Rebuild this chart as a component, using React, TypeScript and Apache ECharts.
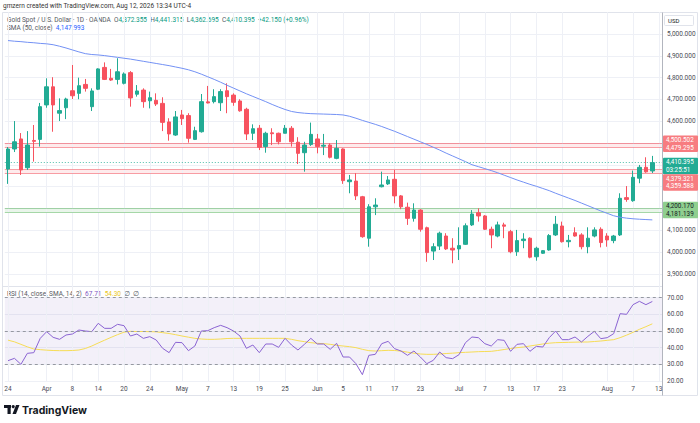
import React, { useEffect, useRef } from "react";
import * as echarts from "echarts";

// ---- categories (trading days, 2026) ----
const marDays = [24, 25, 26, 27, 30, 31];
const aprDays = [1, 2, 6, 7, 8, 9, 10, 13, 14, 15, 16, 17, 20, 21, 22, 23, 24, 27, 28, 29, 30];
const mayDays = [1, 4, 5, 6, 7, 8, 11, 12, 13, 14, 15, 18, 19, 20, 21, 22, 25, 26, 27, 28, 29];
const junDays = [1, 2, 3, 4, 5, 8, 9, 10, 11, 12, 15, 16, 17, 18, 19, 22, 23, 24, 25, 26, 29, 30];
const julDays = [1, 2, 3, 6, 7, 8, 9, 10, 13, 14, 15, 16, 17, 20, 21, 22, 23, 24, 27, 28, 29, 30, 31];
const augDays = [3, 4, 5, 6, 7, 10, 11, 12, 13];

const tickDates = ["03-24", "04-01", "04-08", "04-14", "04-20", "04-24", "05-01", "05-07", "05-13", "05-19", "05-25", "06-01", "06-05", "06-11", "06-17", "06-23", "07-01", "07-07", "07-13", "07-17", "07-23", "08-03", "08-07", "08-13"];
const tickTexts = ["24", "Apr", "8", "14", "20", "24", "May", "7", "13", "19", "25", "Jun", "5", "11", "17", "23", "Jul", "7", "13", "17", "23", "Aug", "7", "13"];

// price-scale tick labels hidden behind the level boxes
const hiddenPriceTicks = [4200, 4300, 4400, 4500];

// ---- OHLC ----
const opens = [4381, 4473, 4519, 4387, 4512, 4517, 4675, 4758, 4637, 4662, 4740, 4728, 4769, 4667, 4747, 4847, 4797, 4792, 4774, 4823,
  4724, 4743, 4694, 4696, 4682, 4597, 4537, 4629, 4626, 4517, 4552, 4689, 4690, 4685, 4740, 4720, 4693, 4655, 4545, 4568,
  4484, 4547, 4545, 4545, 4568, 4504, 4456, 4494, 4519, 4486, 4491, 4430, 4473, 4323, 4326, 4254, 4064, 4208, 4300, 4313,
  4334, 4258, 4206, 4155, 4193, 4112, 4005, 4028, 4074, 4018, 4015, 4036, 4125, 4181, 4166, 4105, 4074, 4125, 4094, 4002,
  4053, 4064, 3979, 3995, 4010, 4079, 4120, 4048, 4089, 4079, 4025, 4074, 4105, 4074, 4053, 4079, 4250, 4236, 4339, 4389, 4372.355];
const highs = [4482, 4601, 4546, 4555, 4583, 4684, 4797, 4802, 4705, 4708, 4858, 4800, 4794, 4751, 4843, 4870, 4840, 4889, 4824, 4830,
  4766, 4751, 4736, 4728, 4710, 4614, 4647, 4652, 4637, 4575, 4725, 4762, 4747, 4747, 4774, 4728, 4701, 4662, 4586, 4583,
  4552, 4568, 4548, 4583, 4578, 4527, 4506, 4594, 4542, 4542, 4499, 4514, 4476, 4354, 4362, 4258, 4220, 4247, 4369, 4349,
  4377, 4262, 4227, 4224, 4197, 4117, 4041, 4094, 4087, 4064, 4114, 4132, 4193, 4201, 4170, 4117, 4140, 4135, 4102, 4102,
  4087, 4068, 4025, 4010, 4083, 4166, 4140, 4079, 4114, 4087, 4114, 4114, 4114, 4087, 4079, 4270, 4303, 4374, 4400, 4435, 4441.315];
const lows = [4313, 4459, 4354, 4377, 4415, 4484, 4662, 4552, 4601, 4610, 4702, 4701, 4736, 4647, 4743, 4789, 4785, 4769, 4769, 4667,
  4713, 4662, 4659, 4670, 4555, 4511, 4533, 4583, 4502, 4514, 4548, 4682, 4682, 4647, 4637, 4671, 4644, 4514, 4514, 4468,
  4456, 4491, 4494, 4545, 4484, 4404, 4369, 4487, 4453, 4445, 4430, 4426, 4313, 4270, 4239, 4066, 4025, 4170, 4297, 4308,
  4224, 4197, 4125, 4140, 4094, 3956, 3964, 4010, 4010, 3949, 3964, 4033, 4120, 4140, 4102, 4018, 4068, 4064, 3995, 3983,
  4018, 3972, 3961, 3992, 4007, 4074, 4044, 4022, 4071, 4013, 3995, 4068, 4022, 4025, 4041, 4074, 4231, 4231, 4316, 4364, 4362.695];
const closes = [4473, 4506, 4377, 4491, 4508, 4667, 4758, 4675, 4649, 4702, 4717, 4763, 4751, 4739, 4840, 4792, 4789, 4827, 4817, 4707,
  4739, 4690, 4708, 4679, 4595, 4542, 4620, 4612, 4522, 4557, 4690, 4684, 4713, 4736, 4713, 4687, 4648, 4542, 4566, 4481,
  4545, 4543, 4506, 4568, 4506, 4453, 4491, 4540, 4484, 4490, 4435, 4476, 4328, 4331, 4258, 4071, 4208, 4216, 4308, 4331,
  4258, 4208, 4155, 4193, 4105, 3998, 4025, 4087, 4015, 4010, 4030, 4121, 4175, 4166, 4105, 4079, 4125, 4119, 4002, 4053,
  4060, 3977, 4018, 4007, 4076, 4128, 4048, 4054, 4074, 4025, 4064, 4102, 4044, 4056, 4074, 4247, 4242, 4343, 4389, 4368.245, 4410.395];

// ---- SMA (50, close) ----
const sma50 = [4970, 4967, 4965, 4962, 4960, 4957, 4955, 4951, 4944, 4936, 4927, 4918, 4910, 4906, 4904, 4901, 4897, 4893, 4889, 4885,
  4880, 4875, 4870, 4865, 4860, 4855, 4849, 4843, 4836, 4827, 4816, 4804, 4792, 4779, 4765, 4752, 4739, 4726, 4714, 4702,
  4690, 4677, 4665, 4654, 4645, 4640, 4637, 4635, 4634, 4633, 4632, 4631, 4629, 4623, 4614, 4604, 4595, 4586, 4576, 4565,
  4554, 4542, 4530, 4518, 4506, 4494, 4481, 4468, 4454, 4441, 4428, 4415, 4401, 4392, 4383, 4374, 4364, 4353, 4342, 4331,
  4321, 4311, 4302, 4292, 4282, 4270, 4259, 4248, 4237, 4225, 4213, 4201, 4189, 4178, 4167, 4160, 4156, 4153, 4151, 4149.5, 4147.993];

// ---- RSI (14) and its SMA (14) ----
const rsi = [32.2, 33.6, 30, 36.6, 37, 45.6, 49.6, 46.2, 45, 47.6, 48.2, 50.6, 50, 49.6, 54.6, 51.6, 51.6, 54, 53.2, 47,
  48.2, 45.6, 46.6, 44.6, 39.6, 37, 43.2, 43, 38.2, 41, 50, 50.2, 52, 53.4, 52, 50, 47, 39.6, 41.6, 37,
  42.2, 42.2, 40.2, 45.6, 41.6, 38.6, 42, 45.6, 42.2, 42.2, 39, 42.6, 34.4, 34.4, 30.4, 23.8, 35.4, 36, 42.4, 43.8,
  39.4, 38, 35.4, 38, 34.4, 30.4, 32.4, 37.4, 34, 33.4, 35.8, 43, 46.4, 46, 42.4, 41, 44.8, 44.4, 37.8, 42,
  42.4, 37.8, 40.8, 40.4, 46, 50, 44.8, 44.8, 46.4, 43.4, 46.8, 49.8, 45.4, 46, 48.4, 60.4, 60, 65.8, 67.8, 65.8, 67.71];
const rsiMa = [44.5, 43.5, 42, 40.5, 39.2, 38.8, 38.5, 38.3, 38.2, 38.2, 38.3, 38.6, 39.5, 41, 42.8, 44.5, 46.2, 47.8, 49.3, 49.8,
  49.7, 49.7, 49.6, 49.5, 49, 48.5, 47.8, 47, 46.3, 45.6, 45.2, 45, 45, 45.2, 45.5, 45.6, 45.6, 45.6, 45.6, 45.6,
  45.6, 45.6, 45.6, 45.6, 45, 44.2, 43.6, 43, 42.6, 42.4, 42, 41.4, 41, 40.6, 40, 39, 38.2, 38, 38.2, 38.4,
  38.3, 37.9, 37.3, 36.7, 36.2, 36, 36, 36.2, 36.5, 36.7, 37, 37.2, 37.4, 37.6, 37.7, 37.8, 38.3, 38.9, 39.5, 40,
  40.4, 41, 41.6, 42.2, 42.7, 43, 43.1, 43.2, 43.3, 43.4, 43.4, 43.7, 44, 44.4, 44.8, 46, 47.5, 49.2, 51, 52.6, 54.3];

// ---- horizontal zones ----
const redZones = [[4500.502, 4479.295], [4379.321, 4359.588]];
const greenZones = [[4200.170, 4181.139]];
const lastPrice = 4410.395;
const countdown = "03:25:51";

const UP = "#22ab94";
const DOWN = "#f7525f";
const FONT = 'Roboto, "Noto Sans", Arial, sans-serif';
const TXT = "#4a4c55";
const RED_EDGE = "rgba(242,54,69,0.45)";
const GREEN_EDGE = "rgba(76,175,80,0.45)";

const pad = (n: number) => (n < 10 ? "0" + n : "" + n);
const dates = [
  ...marDays.map((d) => "03-" + pad(d)),
  ...aprDays.map((d) => "04-" + pad(d)),
  ...mayDays.map((d) => "05-" + pad(d)),
  ...junDays.map((d) => "06-" + pad(d)),
  ...julDays.map((d) => "07-" + pad(d)),
  ...augDays.map((d) => "08-" + pad(d)),
];
const fmt3 = (v: number) => v.toLocaleString("en-US", { minimumFractionDigits: 3, maximumFractionDigits: 3 });

export default function App() {
  const ref = useRef<HTMLDivElement>(null);
  useEffect(() => {
    document.body.style.margin = "0";
    const chart = echarts.init(ref.current as HTMLDivElement, null, { renderer: "svg" });
    const tickSet = new Set(tickDates);
    const candleData = opens.map((o, i) => [o, closes[i], lows[i], highs[i]]);
    const vLines = tickDates.map((d) => ({ xAxis: d }));
    const gridLineStyle = { color: "#eef0f6", width: 1, type: "solid" as const };
    const noLabel = { show: false };

    const zoneEdges = [
      ...redZones.flatMap((z) => z.map((v) => ({ yAxis: v, lineStyle: { color: RED_EDGE, type: "solid", width: 1.2, opacity: 1 } }))),
      ...greenZones.flatMap((z) => z.map((v) => ({ yAxis: v, lineStyle: { color: GREEN_EDGE, type: "solid", width: 1.2, opacity: 1 } }))),
    ];

    const option: any = {
      animation: false,
      backgroundColor: "#ffffff",
      textStyle: { fontFamily: FONT },
      grid: [
        { left: 4.8, right: 38, top: 12.2, bottom: 127.2, outerBoundsMode: "none", containLabel: false },
        { left: 4.8, right: 38, top: 287, bottom: 42, outerBoundsMode: "none", containLabel: false },
      ],
      xAxis: [
        {
          type: "category", gridIndex: 0, data: dates, boundaryGap: true,
          axisLabel: { show: false }, axisTick: { show: false }, axisLine: { show: false }, splitLine: { show: false },
        },
        {
          type: "category", gridIndex: 1, data: dates, boundaryGap: true,
          axisTick: { show: false }, axisLine: { show: false }, splitLine: { show: false },
          axisLabel: {
            interval: (_i: number, v: string) => tickSet.has(v),
            formatter: (v: string) => tickTexts[tickDates.indexOf(v)] ?? "",
            fontSize: 6.5, color: TXT, margin: 4.5, fontFamily: FONT,
          },
        },
      ],
      yAxis: [
        {
          type: "value", gridIndex: 0, position: "right", min: 3800, max: 5100, interval: 100,
          axisLine: { show: false }, axisTick: { show: false },
          splitLine: { show: true, lineStyle: gridLineStyle, showMinLine: false, showMaxLine: false },
          axisLabel: {
            fontSize: 6.5, color: TXT, margin: 5, fontFamily: FONT,
            formatter: (v: number) => (v < 3900 || v > 5000 || hiddenPriceTicks.includes(v) ? "" : fmt3(v)),
          },
        },
        {
          type: "value", gridIndex: 1, position: "right", min: 20, max: 76.4, interval: 10,
          axisLine: { show: false }, axisTick: { show: false },
          splitLine: { show: true, lineStyle: gridLineStyle, showMaxLine: false },
          axisLabel: {
            fontSize: 6.5, color: TXT, margin: 5, fontFamily: FONT, showMinLabel: true,
            formatter: (v: number) => (v > 70 ? "" : v.toFixed(2)),
          },
        },
      ],
      series: [
        {
          type: "line", xAxisIndex: 0, yAxisIndex: 0, data: [], silent: true,
          markLine: { z: 1, silent: true, symbol: ["none", "none"], label: noLabel, lineStyle: gridLineStyle, data: vLines },
        },
        {
          type: "line", xAxisIndex: 1, yAxisIndex: 1, data: [], silent: true,
          markLine: { z: 1, silent: true, symbol: ["none", "none"], label: noLabel, lineStyle: gridLineStyle, data: vLines },
        },
        {
          type: "line", xAxisIndex: 0, yAxisIndex: 0, data: [], silent: true,
          markLine: { z: 1, silent: true, symbol: ["none", "none"], label: noLabel, data: zoneEdges },
        },
        {
          type: "candlestick", name: "XAUUSD", xAxisIndex: 0, yAxisIndex: 0, data: candleData, barWidth: 4,
          itemStyle: { color: UP, color0: DOWN, borderColor: UP, borderColor0: DOWN, borderWidth: 1 },
          markArea: {
            silent: true, label: noLabel,
            data: [
              ...redZones.map((z) => [
                { yAxis: z[0], itemStyle: { color: "rgba(242,54,69,0.10)", borderWidth: 0 } },
                { yAxis: z[1] },
              ]),
              ...greenZones.map((z) => [
                { yAxis: z[0], itemStyle: { color: "rgba(76,175,80,0.12)", borderWidth: 0 } },
                { yAxis: z[1] },
              ]),
            ],
          },
          markLine: {
            silent: true, symbol: ["none", "none"], label: noLabel,
            lineStyle: { color: UP, type: [1, 2], width: 1, opacity: 0.8 },
            data: [{ yAxis: lastPrice }],
          },
        },
        {
          type: "line", name: "SMA 50", xAxisIndex: 0, yAxisIndex: 0, data: sma50, symbol: "none",
          lineStyle: { color: "#7391f4", width: 1 }, z: 3,
        },
        {
          type: "line", name: "RSI", xAxisIndex: 1, yAxisIndex: 1, data: rsi, symbol: "none",
          lineStyle: { color: "#8a63d2", width: 1 }, z: 4,
          markArea: {
            silent: true, label: noLabel,
            data: [[{ yAxis: 70, itemStyle: { color: "rgba(126,87,194,0.09)", borderWidth: 0 } }, { yAxis: 30 }]],
          },
          markLine: {
            silent: true, symbol: ["none", "none"], label: noLabel,
            lineStyle: { color: "#9598a1", type: [3, 3], width: 1 },
            data: [{ yAxis: 70 }, { yAxis: 50 }, { yAxis: 30 }],
          },
        },
        {
          type: "line", name: "RSI MA", xAxisIndex: 1, yAxisIndex: 1, data: rsiMa, symbol: "none",
          lineStyle: { color: "#f6dc55", width: 1 }, z: 3,
        },
      ],
    };
    chart.setOption(option);

    const yOf = (v: number) => chart.convertToPixel({ yAxisIndex: 0 }, v) as number;
    const boxX = 663;
    const boxW = 35;
    const boxH = 16.5;
    const graphics: any[] = [];
    const txt = (x: number, y: number, text: string, fill: string, size = 6.5, extra: any = {}) => ({
      type: "text", x, y, silent: true, z: 100,
      style: { text, fill, fontSize: size, fontFamily: FONT, verticalAlign: "middle", ...extra },
    });

    // frame, separators, price-axis line
    graphics.push({ type: "rect", silent: true, shape: { x: 2.5, y: 12.5, width: 695, height: 383 }, style: { fill: "none", stroke: "#e0e3eb", lineWidth: 1 } });
    graphics.push({ type: "line", silent: true, shape: { x1: 2.5, y1: 286.5, x2: 662, y2: 286.5 }, style: { stroke: "#e0e3eb", lineWidth: 1 } });
    graphics.push({ type: "line", silent: true, shape: { x1: 662.5, y1: 12.5, x2: 662.5, y2: 395.5 }, style: { stroke: "#b2b5be", lineWidth: 1 } });

    // USD box
    graphics.push({ type: "rect", silent: true, shape: { x: 664.5, y: 15.5, width: 29, height: 10, r: 1 }, style: { fill: "#fff", stroke: "#e0e3eb", lineWidth: 1 } });
    graphics.push(txt(668, 20.7, "USD", "#131722", 6));

    // header
    graphics.push(txt(3, 6, "gmzern created with TradingView.com, Aug 12, 2026 13:34 UTC-4", "#333", 6.5));
    graphics.push({
      type: "text", x: 7, y: 19.5, silent: true,
      style: {
        text: "{n|Gold Spot / U.S. Dollar · 1D · OANDA}  {n|O}{v|4,372.355}  {n|H}{v|4,441.315}  {n|L}{v|4,362.695}  {n|C}{v|4,410.395}  {v|+42.150 (+0.96%)}",
        fontSize: 6.5, fontFamily: FONT, verticalAlign: "middle",
        rich: { n: { fill: "#555862", fontSize: 6.5, fontFamily: FONT }, v: { fill: "#089981", fontSize: 6.5, fontFamily: FONT } },
      },
    });
    graphics.push({
      type: "text", x: 7, y: 28, silent: true,
      style: {
        text: "{n|SMA (50, close)}  {b|4,147.993}",
        fontSize: 6.5, fontFamily: FONT, verticalAlign: "middle",
        rich: { n: { fill: "#555862", fontSize: 6.5, fontFamily: FONT }, b: { fill: "#2962ff", fontSize: 6.5, fontFamily: FONT } },
      },
    });
    graphics.push({
      type: "text", x: 7, y: 293.5, silent: true,
      style: {
        text: "{n|RSI (14, close, SMA, 14, 2)}  {p|67.71}  {y|54.30}  {n|∅  ∅}",
        fontSize: 6.5, fontFamily: FONT, verticalAlign: "middle",
        rich: {
          n: { fill: "#555862", fontSize: 6.5, fontFamily: FONT },
          p: { fill: "#7e57c2", fontSize: 6.5, fontFamily: FONT },
          y: { fill: "#e8c51a", fontSize: 6.5, fontFamily: FONT },
        },
      },
    });

    // price-scale label boxes
    const pairBox = (top: number, fill: string, color: string, lines: string[]) => {
      graphics.push({ type: "rect", silent: true, z: 99, shape: { x: boxX, y: top, width: boxW, height: boxH, r: 1 }, style: { fill } });
      graphics.push(txt(boxX + 3, top + 4.6, lines[0], color, 6.3));
      graphics.push(txt(boxX + 3, top + 12, lines[1], color, 6.3));
      return top + boxH;
    };
    const r1 = redZones[0];
    const r1Top = (yOf(r1[0]) + yOf(r1[1])) / 2 - boxH / 2 - 1.5;
    pairBox(r1Top, "#f77c80", "#ffffff", [fmt3(r1[0]), fmt3(r1[1])]);
    const curTop = yOf(lastPrice) - 5;
    const curBottom = pairBox(curTop, UP, "#ffffff", [fmt3(lastPrice), countdown]);
    const r2 = redZones[1];
    const r2Top = Math.max((yOf(r2[0]) + yOf(r2[1])) / 2 - boxH / 2, curBottom);
    pairBox(r2Top, "#f77c80", "#ffffff", [fmt3(r2[0]), fmt3(r2[1])]);
    const g1 = greenZones[0];
    const g1Top = (yOf(g1[0]) + yOf(g1[1])) / 2 - boxH / 2 - 0.5;
    pairBox(g1Top, "#8fcf8f", "#131722", [fmt3(g1[0]), fmt3(g1[1])]);

    // TradingView footer logo
    graphics.push({ type: "rect", silent: true, shape: { x: 4, y: 405, width: 7, height: 3 }, style: { fill: "#131722" } });
    graphics.push({ type: "rect", silent: true, shape: { x: 7.5, y: 405, width: 3.2, height: 9 }, style: { fill: "#131722" } });
    graphics.push({ type: "circle", silent: true, shape: { cx: 13.2, cy: 406.6, r: 1.6 }, style: { fill: "#131722" } });
    graphics.push({ type: "polygon", silent: true, shape: { points: [[12.5, 414], [16, 405], [19.5, 405], [16, 414]] }, style: { fill: "#131722" } });
    graphics.push(txt(22, 410, "TradingView", "#131722", 10.5, { fontWeight: "bold", fontFamily: 'Inter, Roboto, sans-serif' }));

    chart.setOption({ graphic: graphics });
    return () => chart.dispose();
  }, []);
  return <div ref={ref} style={{ position: "fixed", left: 0, top: 0, width: 700, height: 423 }} />;
}
